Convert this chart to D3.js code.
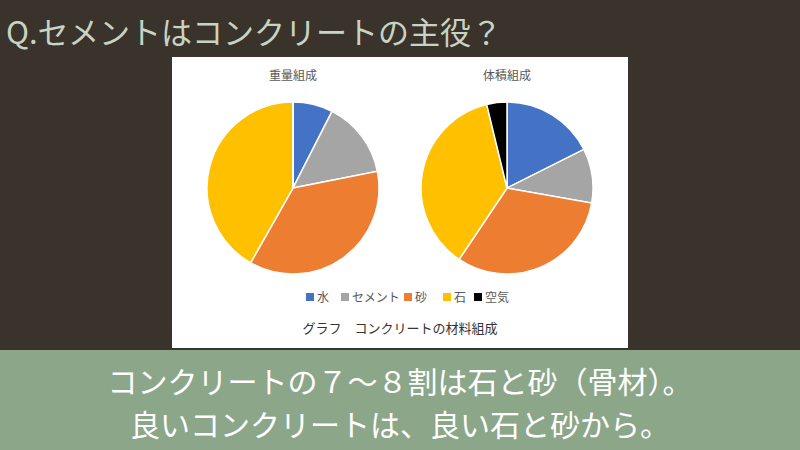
<!DOCTYPE html><html><head><meta charset="utf-8"><script src="https://cdn.jsdelivr.net/npm/d3@7"></script>
<style>body{margin:0;background:#3a332b}svg{display:block}</style></head><body><svg width="800" height="450"></svg>
<script>
const categories=["水","セメント","砂","石","空気"];
const colors=["#4472c4","#a5a5a5","#ed7d31","#ffc000","#000000"];
const weightValues=[7.5,14.4,36.3,41.8,0];
const volumeValues=[17.6,10.2,31.6,36.8,3.8];
const pieTitles=["重量組成","体積組成"];
const svg=d3.select("svg");
const F="'Noto Sans CJK JP','Noto Sans',sans-serif";
svg.append("rect").attr("width",800).attr("height",450).attr("fill","#3a332b");
svg.append("text").attr("x",6).attr("y",44).attr("font-family",F).attr("font-size",31).attr("fill","#c9d3c3").text("Q.セメントはコンクリートの主役？");
svg.append("rect").attr("x",172).attr("y",57).attr("width",456).attr("height",291).attr("fill","#fff");
const pie=d3.pie().sort(null).value(d=>d);
const arc=d3.arc().innerRadius(0).outerRadius(86);
[[weightValues,293],[volumeValues,507]].forEach(([vals,cx],i)=>{
 const g=svg.append("g").attr("transform",`translate(${cx},188)`);
 g.selectAll("path").data(pie(vals)).join("path").attr("d",arc).attr("fill",(d,j)=>colors[j]).attr("stroke","#fff").attr("stroke-width",1.5);
 svg.append("text").attr("x",cx).attr("y",80).attr("text-anchor","middle").attr("font-family",F).attr("font-size",12).attr("fill","#595959").text(pieTitles[i]);
});
const lx=[306,341,404,443,474];
categories.forEach((c,i)=>{
 svg.append("rect").attr("x",lx[i]).attr("y",293).attr("width",8).attr("height",8).attr("fill",colors[i]);
 svg.append("text").attr("x",lx[i]+11).attr("y",302).attr("font-family",F).attr("font-size",12).attr("fill","#595959").text(c);
});
svg.append("text").attr("x",400).attr("y",333).attr("text-anchor","middle").attr("font-family",F).attr("font-size",13).attr("fill","#333").text("グラフ　コンクリートの材料組成");
svg.append("rect").attr("x",0).attr("y",350).attr("width",800).attr("height",100).attr("fill","#8ca68a");
svg.append("text").attr("x",400).attr("y",393).attr("text-anchor","middle").attr("font-family",F).attr("font-size",30).attr("fill","#fff").text("コンクリートの７～８割は石と砂（骨材）。");
svg.append("text").attr("x",400).attr("y",436).attr("text-anchor","middle").attr("font-family",F).attr("font-size",30).attr("fill","#fff").text("良いコンクリートは、良い石と砂から。");
</script></body></html>
